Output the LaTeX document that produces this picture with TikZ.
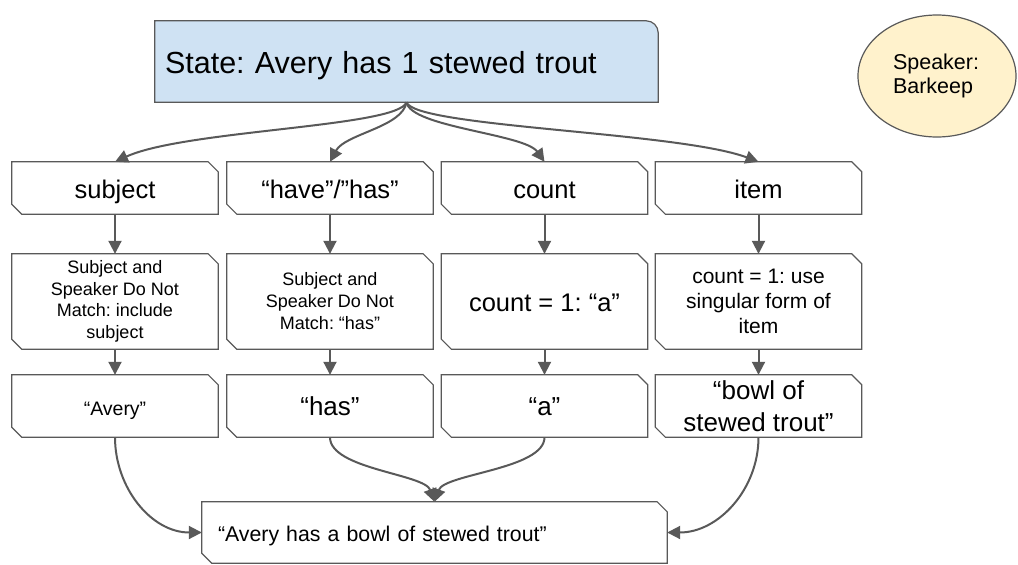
\documentclass[tikz,border=0pt]{standalone}
\usepackage{fontspec}
\setmainfont{Liberation Sans}
\usetikzlibrary{arrows.meta,shapes.geometric,backgrounds}
\definecolor{edge}{HTML}{595959}
\definecolor{statefill}{HTML}{CFE2F3}
\definecolor{speakerfill}{HTML}{FFF2CC}
\frenchspacing
\newcommand{\setfs}[2]{\fontsize{#1}{#2}\selectfont}
% outline of a box with the top-right and bottom-left corners snipped off
\newcommand{\snipoutline}[1]{%
  \path[outline] (#1.north west) -- ([xshift=-10pt]#1.north east)
    -- ([yshift=-10pt]#1.north east) -- (#1.south east)
    -- ([xshift=10pt]#1.south west) -- ([yshift=10pt]#1.south west) -- cycle;}
\tikzset{
  cell/.style={inner sep=0pt, align=center, minimum width=206pt, text=black},
  oneline/.style={text height=#1, text depth=0pt},
  rowone/.style={cell, minimum height=52pt, font=\setfs{25.5}{30}, oneline=20pt},
  rowtwo/.style={cell, minimum height=95pt},
  rowthree/.style={cell, minimum height=62pt, font=\setfs{26}{31.5}},
  flow/.style={draw=edge, line width=2pt, -{Triangle[length=13pt,width=13pt]}},
  outline/.style={draw=edge, line width=1.2pt, fill=white},
}
\begin{document}
\begin{tikzpicture}[x=1pt,y=-1pt]
\useasboundingbox (0,0) rectangle (1018,565);

% state and speaker
\node[inner sep=0pt, minimum width=503pt, minimum height=81pt, text width=483pt,
      align=left, font=\setfs{30.5}{36}, oneline=23pt] (state) at (406.5,61.5)
      {State: Avery has 1 stewed trout};
\node[ellipse, draw=edge, line width=1.2pt, fill=speakerfill, inner sep=0pt,
      minimum width=158pt, minimum height=122pt, text width=88pt, align=left,
      font=\setfs{21.5}{23.5}] (speaker) at (937,76) {Speaker:\\Barkeep};

% first row: the parts of the sentence
\node[rowone] (subj)  at (115,188)   {subject};
\node[rowone] (verb)  at (330,188)   {“have”/”has”};
\node[rowone] (cnt)   at (544.5,188) {count};
\node[rowone] (item)  at (758.5,188) {item};

% second row: the rules
\node[rowtwo, font=\setfs{18}{21.5}] (subjrule) at (115,301.5)
  {Subject and\\Speaker Do Not\\Match: include\\subject};
\node[rowtwo, font=\setfs{18}{22}] (verbrule) at (330,301.5)
  {Subject and\\Speaker Do Not\\Match: “has”};
\node[rowtwo, font=\setfs{25.5}{30}, oneline=20pt] (cntrule) at (544.5,301.5)
  {count = 1: “a”};
\node[rowtwo, font=\setfs{21}{25}] (itemrule) at (758.5,301.5)
  {count = 1: use\\singular form of\\item};

% third row: the words chosen
\node[rowthree, font=\setfs{19.5}{24}, oneline=18pt] (subjword) at (115,406) {“Avery”};
\node[rowthree, oneline=18pt] (verbword) at (330,406)   {“has”};
\node[rowthree, oneline=18pt] (cntword)  at (544.5,406) {“a”};
\node[rowthree] (itemword) at (758.5,406) {“bowl of\\stewed trout”};

% the sentence
\node[inner sep=0pt, minimum width=465pt, minimum height=61pt, text width=433pt,
      align=left, font=\setfs{21.3}{26}, oneline=18.4pt] (sentence) at (434.5,532.5)
      {“Avery has a bowl of stewed trout”};

\begin{scope}[on background layer]
  \path[draw=edge, line width=1.2pt, fill=statefill]
    (state.south west) -- (state.north west)
    [rounded corners=12pt] -- (state.north east)
    [sharp corners] -- (state.south east) -- cycle;
  \foreach \n in {subj,verb,cnt,item,subjrule,verbrule,cntrule,itemrule,
                  subjword,verbword,cntword,itemword,sentence}
    {\snipoutline{\n}}
\end{scope}

% from the state to each part
\draw[flow] (state.south) .. controls +(-8,25) and +(70,-32) .. (subj.north);
\draw[flow] (state.south) .. controls +(-4,25) and +(15,-28) .. (verb.north);
\draw[flow] (state.south) .. controls +(4,25) and +(-20,-28) .. (cnt.north);
\draw[flow] (state.south) .. controls +(8,25) and +(-80,-30) .. (item.north);

% down each column
\foreach \a/\b in {subj/subjrule,verb/verbrule,cnt/cntrule,item/itemrule,
                   subjrule/subjword,verbrule/verbword,cntrule/cntword,itemrule/itemword}
  {\draw[flow] (\a.south) -- (\b.north);}

% into the sentence
\draw[flow] (subjword.south) to[out=-90,in=180] (sentence.west);
\draw[flow] (verbword.south) .. controls +(0,32) and +(-10,-28) .. (sentence.north);
\draw[flow] (cntword.south) .. controls +(0,32) and +(10,-28) .. (sentence.north);
\draw[flow] (itemword.south) to[out=-90,in=0] (sentence.east);
\end{tikzpicture}
\end{document}
